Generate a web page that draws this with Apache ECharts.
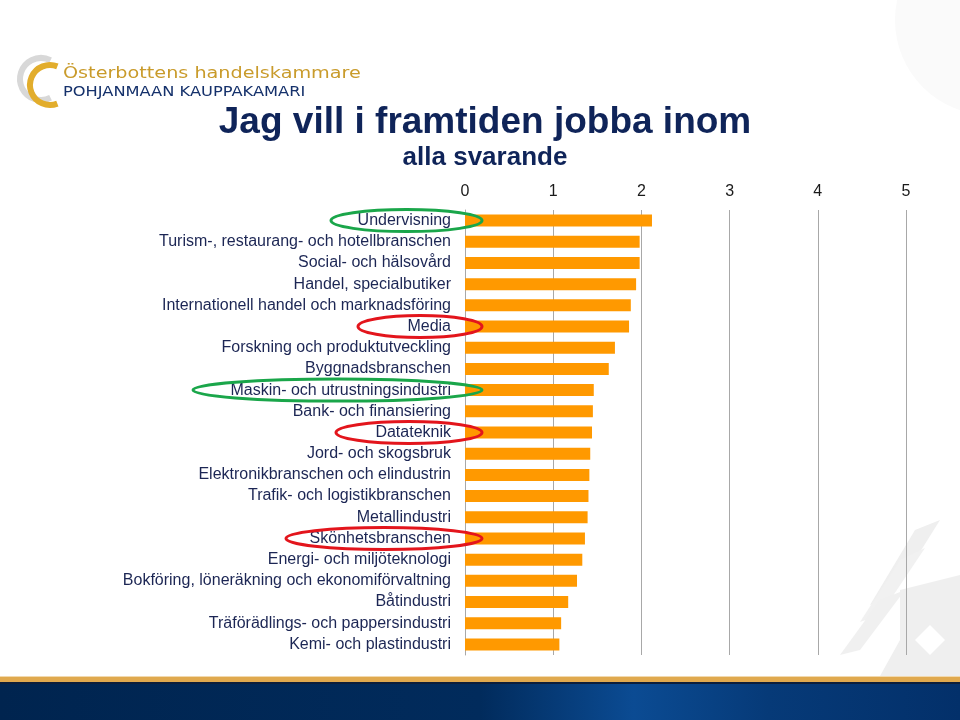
<!DOCTYPE html>
<html><head><meta charset="utf-8">
<script src="https://cdn.jsdelivr.net/npm/echarts@6/dist/echarts.min.js"></script>
<style>html,body{margin:0;padding:0;background:#fff}#c{width:960px;height:720px}</style>
</head><body><div id="c"></div>
<script>
var categories = ["Undervisning","Turism-, restaurang- och hotellbranschen","Social- och hälsovård","Handel, specialbutiker","Internationell handel och marknadsföring","Media","Forskning och produktutveckling","Byggnadsbranschen","Maskin- och utrustningsindustri","Bank- och finansiering","Datateknik","Jord- och skogsbruk","Elektronikbranschen och elindustrin","Trafik- och logistikbranschen","Metallindustri","Skönhetsbranschen","Energi- och miljöteknologi","Bokföring, löneräkning och ekonomiförvaltning","Båtindustri","Träförädlings- och pappersindustri","Kemi- och plastindustri"];
var values = [2.12,1.98,1.98,1.94,1.88,1.86,1.70,1.63,1.46,1.45,1.44,1.42,1.41,1.40,1.39,1.36,1.33,1.27,1.17,1.09,1.07];
var axisTicks = [0,1,2,3,4,5];
var titleText = "Jag vill i framtiden jobba inom";
var subtitleText = "alla svarande";
var highlightGreen = ["Undervisning","Maskin- och utrustningsindustri"];
var highlightRed = ["Media","Datateknik","Skönhetsbranschen"];

var chart = echarts.init(document.getElementById('c'), null, {renderer:'canvas'});
var FONT = '"Liberation Sans", Arial, sans-serif';
var baseGraphics = [
  // bottom band
  {type:'rect', shape:{x:0,y:682,width:960,height:38}, style:{fill:{type:'linear',x:0,y:0,x2:1,y2:0,colorStops:[{offset:0,color:'#00244f'},{offset:0.5,color:'#012b5c'},{offset:0.66,color:'#0b4b93'},{offset:0.8,color:'#063a78'},{offset:1,color:'#03306a'}]}}, z:1},
  {type:'rect', shape:{x:0,y:677,width:960,height:5}, style:{fill:'#e0a94e'}, z:2},
  {type:'rect', shape:{x:0,y:676,width:960,height:1}, style:{fill:'#f2d9ae'}, z:2},
  {type:'rect', shape:{x:0,y:682,width:960,height:2}, style:{fill:'#0d1e3a'}, z:2},
  // top right faint area
  {type:'circle', shape:{cx:990,cy:20,r:95}, style:{fill:'#fafafa'}, z:0},
  // watermark bottom right
  {type:'polygon', shape:{points:[[915,530],[940,520],[890,600],[870,605]]}, style:{fill:'#efefef'}, z:0},
  {type:'polygon', shape:{points:[[900,560],[925,548],[880,615],[860,622]]}, style:{fill:'#f1f1f1'}, z:0},
  {type:'polygon', shape:{points:[[880,600],[905,590],[860,650],[840,655]]}, style:{fill:'#f0f0f0'}, z:0},
  {type:'polygon', shape:{points:[[900,590],[960,575],[960,676],[880,676],[900,640]]}, style:{fill:'#efefef'}, z:0},
  {type:'polygon', shape:{points:[[930,625],[945,640],[930,655],[915,640]]}, style:{fill:'#ffffff'}, z:0},
  // logo
  {type:'arc', shape:{cx:41,cy:79,r:21,startAngle:Math.PI*0.35,endAngle:Math.PI*1.65,clockwise:true}, style:{stroke:'#d8d8d8',lineWidth:6,fill:null}, z:3},
  {type:'arc', shape:{cx:50,cy:85,r:20,startAngle:Math.PI*0.38,endAngle:Math.PI*1.62,clockwise:true}, style:{stroke:'#e2ad2c',lineWidth:6,fill:null}, z:4},
  {type:'text', x:63, y:66, scaleX:1.2, style:{text:'Österbottens handelskammare', fill:'#c99b2b', font:'16px "DejaVu Sans", sans-serif'}, z:5},
  {type:'text', x:63, y:85, scaleX:1.16, style:{text:'POHJANMAAN KAUPPAKAMARI', fill:'#15316b', font:'14px "DejaVu Sans", sans-serif'}, z:5},
  // titles
  {type:'text', x:485, y:104, style:{text:titleText, fill:'#0f2459', font:'bold 37px '+FONT, textAlign:'center'}, z:5},
  {type:'text', x:485, y:145, style:{text:subtitleText, fill:'#0f2459', font:'bold 26px '+FONT, textAlign:'center'}, z:5}
];

var option = {
  animation:false,
  backgroundColor:'#ffffff',
  grid:{left:465, right:54, top:210, bottom:65, containLabel:false},
  xAxis:{type:'value', position:'top', min:0, max:5, interval:1,
    axisLine:{show:false}, axisTick:{show:false},
    axisLabel:{color:'#1a1a1a', fontSize:16, fontFamily:FONT, margin:10,
      formatter:function(v){return axisTicks.indexOf(v)>=0? String(v):'';}},
    splitLine:{show:true, lineStyle:{color:'#a8a8a8', width:1}}},
  yAxis:{type:'category', inverse:true, data:categories,
    axisLine:{show:true, lineStyle:{color:'#a8a8a8', width:1}}, axisTick:{show:false},
    axisLabel:{color:'#1c2654', fontSize:16, fontFamily:FONT, margin:14}},
  series:[{type:'bar', data:values, barWidth:12, itemStyle:{color:'#ff9900'}, z:3}],
  graphic:baseGraphics
};
chart.setOption(option);

var ellipseLeft = {"Undervisning":331,"Media":358,"Maskin- och utrustningsindustri":193,"Datateknik":336,"Skönhetsbranschen":286};
var extra = [];
function addEllipse(name, color){
  var y = chart.convertToPixel({yAxisIndex:0}, name);
  var xr = chart.convertToPixel({xAxisIndex:0}, 0) + 17;
  var xl = ellipseLeft[name];
  extra.push({type:'ellipse', shape:{cx:(xl+xr)/2, cy:y, rx:(xr-xl)/2, ry:11}, style:{stroke:color, lineWidth:3, fill:null}, z:10});
}
highlightGreen.forEach(function(n){addEllipse(n,'#1aa64a');});
highlightRed.forEach(function(n){addEllipse(n,'#e3151c');});
chart.setOption({graphic:baseGraphics.concat(extra)});
</script></body></html>
